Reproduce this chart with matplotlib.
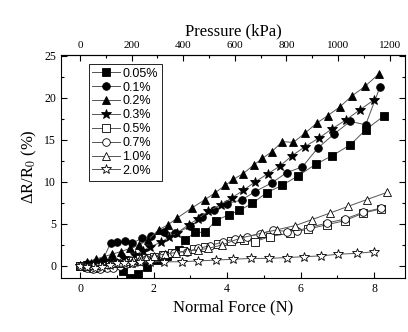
import matplotlib
matplotlib.use("Agg")
import matplotlib.pyplot as plt
from matplotlib.ticker import MultipleLocator, FixedLocator

plt.rcParams["font.family"] = "Liberation Serif"
plt.rcParams["mathtext.fontset"] = "stix"

# datos: fuerza normal (N) y dR/R0 (%)
x_005 = [0, 0.2, 0.4, 0.6, 0.8, 1.0, 1.16, 1.36, 1.58, 1.83, 2.1, 2.37, 2.7, 2.86, 3.13, 3.4, 3.69,
         4.04, 4.33, 4.69, 5.08, 5.5, 5.94, 6.41, 6.85, 7.35, 7.77, 8.28]
y_005 = [0, 0.1, 0.1, 0.2, 0.3, 0.2, -0.65, -1.45, -0.9, -0.16, 0.7, 1.2, 1.9, 3.1, 4.0, 4.0, 5.4,
         6.07, 6.6, 7.46, 8.73, 9.6, 10.75, 12.1, 13.1, 14.4, 16.2, 17.9]

x_01 = [0, 0.2, 0.4, 0.6, 0.83, 1.0, 1.22, 1.41, 1.69, 1.94, 2.27, 2.58, 3.0, 3.31, 3.65, 3.99,
        4.4, 4.76, 5.22, 5.62, 6.05, 6.46, 6.91, 7.35, 7.77, 8.16]
y_01 = [0, 0.2, 0.4, 0.6, 2.7, 2.8, 3.0, 2.7, 3.3, 3.6, 4.0, 3.9, 4.7, 5.8, 6.6, 7.4,
        7.86, 8.85, 9.9, 11.1, 11.8, 14.0, 15.7, 17.2, 16.8, 21.3]

x_02 = [0, 0.19, 0.42, 0.64, 0.87, 1.1, 1.37, 1.61, 1.85, 2.14, 2.39, 2.64, 3.04, 3.4, 3.67,
        3.95, 4.17, 4.44, 4.72, 4.96, 5.22, 5.5, 5.8, 6.12, 6.44, 6.74, 7.06, 7.39, 7.76, 8.14]
y_02 = [0, 0.5, 0.8, 1.1, 1.4, 1.7, 2.1, 2.5, 3.1, 4.3, 4.9, 5.7, 6.9, 7.9, 8.7,
        9.6, 10.3, 11.0, 12.0, 12.8, 13.6, 14.8, 14.7, 15.8, 17.0, 17.9, 18.9, 20.2, 21.4, 22.9]

x_03 = [0, 0.3, 0.6, 0.9, 1.2, 1.5, 1.7, 1.91, 2.19, 2.41, 2.63, 2.95, 3.2, 3.49, 3.84, 4.13,
        4.44, 4.76, 5.12, 5.44, 5.76, 6.12, 6.49, 6.85, 7.24, 7.62, 8.01]
y_03 = [0, 0.2, 0.4, 0.6, 0.9, 1.3, 1.8, 2.3, 2.8, 3.4, 3.9, 4.9, 5.6, 6.5, 7.3, 8.1,
        9.0, 10.0, 11.0, 11.9, 13.1, 14.2, 15.2, 16.3, 17.4, 18.6, 19.8]

x_05 = [0, 0.18, 0.36, 0.54, 0.72, 0.9, 1.08, 1.26, 1.44, 1.62, 1.8, 2.0, 2.25, 2.5, 2.8, 3.1,
        3.4, 3.75, 4.1, 4.45, 4.75, 5.17, 5.71, 6.21, 6.71, 7.21, 7.71, 8.19]
y_05 = [0, -0.1, -0.2, -0.1, 0, 0.1, 0.2, 0.4, 0.6, 0.8, 1.0, 1.1, 1.3, 1.5, 1.8, 2.0,
        2.3, 2.6, 3.0, 3.1, 2.9, 3.5, 3.9, 4.4, 4.9, 5.4, 6.3, 6.8]

x_07 = [0, 0.18, 0.36, 0.54, 0.72, 0.9, 1.08, 1.26, 1.44, 1.62, 1.8, 2.0, 2.25, 2.55, 2.9, 3.22,
        3.54, 3.9, 4.22, 4.54, 4.9, 5.26, 5.62, 5.9, 6.26, 6.71, 7.21, 7.71, 8.2]
y_07 = [0, -0.3, -0.4, -0.4, -0.3, -0.2, 0, 0.2, 0.4, 0.6, 0.8, 1.0, 1.3, 1.6, 1.7, 2.1,
        2.4, 2.9, 3.2, 3.5, 3.8, 4.3, 4.1, 4.2, 4.6, 5.1, 5.6, 6.4, 6.9]

x_10 = [0, 0.18, 0.36, 0.54, 0.72, 0.9, 1.08, 1.26, 1.44, 1.62, 1.8, 2.0, 2.3, 2.6, 2.9, 3.2,
        3.49, 3.86, 4.35, 4.94, 5.35, 5.85, 6.3, 6.8, 7.3, 7.8, 8.35]
y_10 = [0, 0, 0.1, 0.1, 0.2, 0.3, 0.4, 0.6, 0.7, 0.9, 1.0, 1.2, 1.4, 1.6, 1.8, 1.9,
        2.1, 2.5, 3.3, 3.9, 4.3, 4.8, 5.5, 6.3, 7.1, 7.9, 8.75]

x_20 = [0, 0.2, 0.4, 0.6, 0.8, 1.0, 1.2, 1.4, 1.63, 1.9, 2.27, 2.77, 3.22, 3.69, 4.17, 4.65,
        5.14, 5.62, 6.08, 6.56, 7.03, 7.53, 8.01]
y_20 = [0, -0.1, -0.2, -0.1, 0.1, 0.3, 0.35, 0.4, 0.5, 0.5, 0.5, 0.5, 0.6, 0.7, 0.8, 0.9,
        0.9, 1.0, 1.1, 1.2, 1.4, 1.5, 1.7]

etiquetas = ["0.05%", "0.1%", "0.2%", "0.3%", "0.5%", "0.7%", "1.0%", "2.0%"]
marcadores = ["s", "o", "^", "*", "s", "o", "^", "*"]
rellenos = [True, True, True, True, False, False, False, False]
series = [(x_005, y_005), (x_01, y_01), (x_02, y_02), (x_03, y_03),
          (x_05, y_05), (x_07, y_07), (x_10, y_10), (x_20, y_20)]

presion_ticks = [0, 200, 400, 600, 800, 1000, 1200]
kpa_por_n = 142.5

fig = plt.figure(figsize=(4.08, 3.32), dpi=100)
ax = fig.add_axes([0.1495, 0.1627, 0.8431, 0.6716])

for (xs, ys), lab, m, f in zip(series, etiquetas, marcadores, rellenos):
    ms = 7.0 if m == "*" else 5.5
    ax.plot(xs, ys, marker=m, markersize=ms, color="#555555", lw=0.7,
            markerfacecolor="black" if f else "white", markeredgecolor="black",
            markeredgewidth=0.6, label=lab)

ax.set_xlim(-0.52, 8.84)
ax.set_ylim(-1.43, 25.1)
ax.xaxis.set_major_locator(MultipleLocator(2))
ax.xaxis.set_minor_locator(MultipleLocator(1))
ax.yaxis.set_major_locator(MultipleLocator(5))
ax.yaxis.set_minor_locator(MultipleLocator(2.5))
ax.tick_params(which="both", direction="in", right=True, labelsize=8.5, width=0.8)
ax.tick_params(which="major", length=4)
ax.tick_params(which="minor", length=2)

ax.set_xlabel("Normal Force (N)", fontsize=12, labelpad=3)
ax.set_ylabel(r"ΔR/R$_0$ (%)", fontsize=12, labelpad=4)

sec = ax.secondary_xaxis("top", functions=(lambda f: f * kpa_por_n, lambda p: p / kpa_por_n))
sec.xaxis.set_major_locator(FixedLocator(presion_ticks))
sec.xaxis.set_minor_locator(MultipleLocator(100))
sec.tick_params(which="both", direction="in", labelsize=8, width=0.8)
sec.tick_params(which="major", length=4)
sec.tick_params(which="minor", length=2)
sec.set_xlabel("Pressure (kPa)", fontsize=12, labelpad=4)

leg = ax.legend(loc="upper left", bbox_to_anchor=(0.08, 0.96), borderaxespad=0,
                prop={"family": "Liberation Sans", "size": 9}, fancybox=False,
                edgecolor="black", framealpha=1, handlelength=2.2, handletextpad=0.2,
                labelspacing=0.15, borderpad=0.3)
leg.get_frame().set_linewidth(0.6)

fig.savefig("out.png", dpi=100)
